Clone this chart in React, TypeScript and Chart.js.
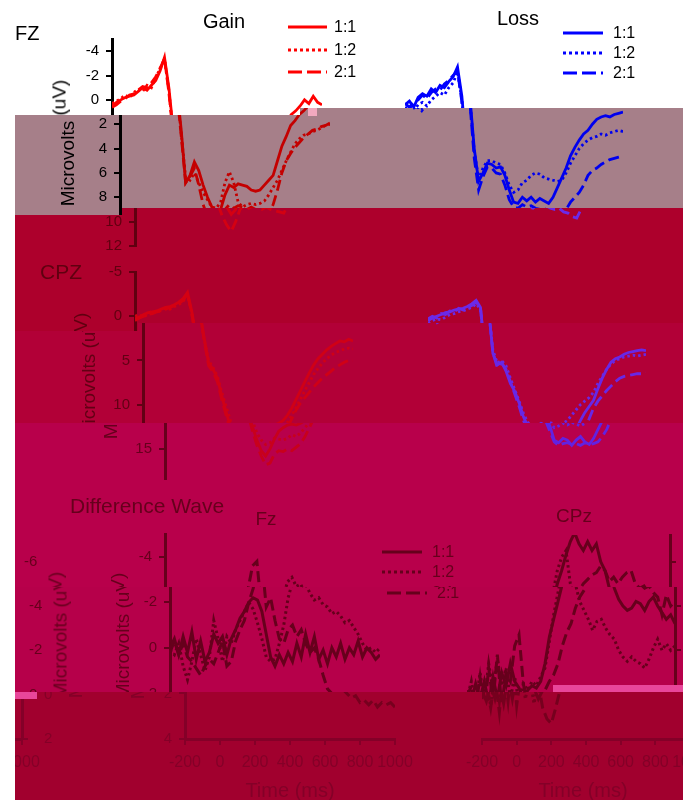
import React, { useEffect, useRef } from "react";
import { Chart, registerables } from "chart.js";

Chart.register(...registerables);

const FONT = "'Liberation Sans', Arial, Helvetica, sans-serif";

// ---------------- data ----------------
const TIMES = [-200, -175, -150, -125, -100, -75, -50, -25, 0, 25, 50, 75, 100, 125, 150, 175, 200, 225, 250, 275, 300, 325, 350, 375, 400, 425, 450, 475, 500, 525, 550, 575, 600, 625, 650, 675, 700, 725, 750, 775, 800, 825, 850, 875, 900, 925, 950, 975, 1000];
const X_TICKS = [-200, 0, 200, 400, 600, 800, 1000];
const FZ_TICKS = [-4, -2, 0, 2, 4, 6, 8, 10, 12];
const CPZ_TICKS = [-5, 0, 5, 10, 15];
const DIFF_FZ_TICKS = [-4, -2, 0, 2, 4];
const DIFF_CPZ_TICKS = [-6, -4, -2, 0, 2];
const LEGEND_LABELS = ["1:1", "1:2", "2:1"];

const FZ_GAIN_11 = [0.5, 0.2, 0.0, -0.2, -0.3, -0.4, -0.7, -1.0, -0.8, -1.2, -1.6, -2.4, -3.5, -1.0, 2.5, 6.8, 6.2, 5.1, 5.8, 7.0, 8.0, 8.8, 9.4, 9.0, 7.8, 7.0, 7.2, 6.9, 7.0, 7.1, 7.4, 7.5, 7.4, 7.0, 6.6, 6.2, 5.0, 3.8, 3.0, 2.1, 1.7, 1.2, 0.9, 0.5, 0.0, 0.3, -0.3, 0.2, 0.4];
const FZ_GAIN_12 = [0.3, 0.1, -0.1, -0.4, -0.2, -0.6, -0.9, -0.7, -1.2, -1.0, -1.8, -2.6, -3.3, -0.8, 2.8, 6.4, 6.6, 6.0, 6.8, 7.6, 8.2, 8.8, 8.9, 8.4, 6.8, 5.9, 6.8, 8.4, 8.8, 8.6, 8.5, 8.6, 8.5, 8.3, 7.8, 7.2, 6.6, 5.8, 5.0, 4.3, 3.6, 3.2, 2.9, 2.8, 2.6, 2.5, 2.3, 2.1, 2.0];
const FZ_GAIN_21 = [0.6, 0.4, 0.1, -0.1, -0.4, -0.5, -0.8, -1.1, -1.0, -1.4, -1.9, -2.6, -3.4, -0.6, 3.0, 6.8, 6.3, 5.6, 7.0, 8.6, 9.6, 10.3, 10.8, 10.0, 9.0, 8.6, 8.9, 8.7, 8.8, 9.0, 8.8, 9.0, 9.1, 9.2, 9.3, 8.6, 7.4, 6.0, 5.0, 4.4, 3.9, 3.5, 3.1, 2.8, 2.5, 2.4, 2.2, 2.1, 1.9];

const FZ_LOSS_11 = [0.4, 0.1, 0.6, -0.2, -0.5, -0.3, -0.9, -0.6, -1.2, -1.0, -1.5, -1.9, -2.7, -0.3, 4.0, 6.7, 6.0, 5.2, 5.3, 5.6, 5.5, 6.2, 7.4, 8.4, 8.5, 8.0, 8.3, 8.0, 8.4, 8.1, 8.3, 8.5, 8.0, 7.2, 6.4, 5.6, 4.6, 3.9, 3.3, 2.8, 2.5, 2.0, 1.6, 1.4, 1.3, 1.4, 1.2, 1.1, 1.0];
const FZ_LOSS_12 = [0.7, 0.5, 0.9, 0.4, 0.2, 0.5, 0.0, -0.3, -0.6, -0.4, -1.0, -1.4, -2.3, 0.0, 4.2, 6.5, 5.6, 5.0, 5.0, 5.2, 5.3, 6.0, 7.0, 7.6, 7.4, 6.8, 6.6, 6.2, 6.0, 6.1, 6.4, 6.5, 6.6, 6.7, 6.6, 6.0, 5.2, 4.6, 4.0, 3.6, 3.3, 3.1, 3.0, 2.8, 2.9, 2.7, 2.6, 2.5, 2.6];
const FZ_LOSS_21 = [0.3, 0.6, 0.2, 0.0, -0.4, -0.1, -0.6, -0.9, -0.8, -1.3, -1.6, -2.0, -2.4, 0.2, 4.8, 7.4, 6.3, 5.5, 5.6, 6.0, 6.1, 7.0, 8.2, 8.8, 8.9, 8.6, 8.8, 8.7, 8.9, 9.0, 8.9, 9.2, 9.3, 9.6, 9.7, 9.0, 8.4, 8.0, 7.6, 7.0, 6.2, 5.8, 5.6, 5.3, 5.1, 4.9, 4.8, 4.7, 4.6];

const CPZ_GAIN_11 = [0.3, 0.1, -0.2, -0.4, -0.5, -0.6, -0.8, -1.0, -1.1, -1.3, -1.6, -2.0, -2.7, -0.5, 2.5, 5.3, 6.0, 7.0, 9.0, 10.8, 12.5, 14.0, 15.2, 15.8, 15.0, 13.9, 13.0, 12.6, 12.3, 12.2, 12.3, 12.1, 11.8, 11.2, 10.4, 9.4, 8.4, 7.4, 6.4, 5.5, 4.8, 4.3, 3.8, 3.4, 3.1, 2.8, 2.9, 2.6, 2.8];
const CPZ_GAIN_12 = [0.0, -0.2, 0.1, -0.3, -0.6, -0.4, -0.7, -0.9, -0.8, -1.1, -1.3, -1.7, -2.4, -0.3, 2.7, 5.0, 5.8, 6.8, 8.6, 10.2, 11.8, 13.2, 14.0, 14.5, 14.3, 13.8, 13.9, 14.0, 13.8, 13.4, 13.6, 13.2, 12.6, 12.0, 11.2, 10.3, 9.4, 8.4, 7.5, 6.6, 5.9, 5.3, 4.8, 4.4, 4.1, 3.9, 3.7, 3.6, 3.7];
const CPZ_GAIN_21 = [0.5, 0.2, 0.0, -0.2, -0.3, -0.5, -0.6, -0.8, -1.0, -1.2, -1.4, -1.8, -2.5, -0.2, 2.8, 5.6, 6.3, 7.4, 9.4, 11.2, 13.0, 14.6, 15.8, 16.8, 16.6, 15.6, 15.2, 15.3, 15.0, 15.2, 14.8, 14.4, 13.6, 12.6, 11.6, 10.6, 9.8, 9.2, 8.6, 8.0, 7.5, 7.0, 6.6, 6.2, 5.8, 5.5, 5.2, 5.0, 5.0];

const CPZ_LOSS_11 = [0.5, 0.2, 0.0, -0.2, -0.4, -0.5, -0.7, -0.8, -0.9, -1.1, -1.4, -1.8, -1.0, 4.2, 5.5, 5.2, 6.2, 7.6, 8.5, 9.8, 11.4, 12.4, 14.0, 14.3, 13.8, 14.0, 14.6, 14.0, 13.6, 14.2, 14.5, 13.8, 12.8, 11.8, 10.9, 10.2, 9.5, 8.2, 7.0, 6.0, 5.2, 4.8, 4.6, 4.3, 4.1, 4.0, 3.9, 3.8, 3.9];
const CPZ_LOSS_12 = [0.8, 0.5, 0.3, 0.4, 0.1, -0.2, -0.3, -0.5, -0.6, -0.8, -1.0, -1.4, -0.8, 3.8, 5.3, 5.0, 5.6, 7.0, 8.3, 9.6, 11.0, 12.0, 12.6, 12.4, 12.1, 12.3, 12.0, 12.2, 12.4, 12.1, 11.8, 11.2, 10.6, 10.0, 9.6, 9.2, 8.6, 7.6, 6.8, 6.0, 5.4, 5.0, 4.8, 4.6, 4.5, 4.4, 4.5, 4.4, 4.3];
const CPZ_LOSS_21 = [0.3, 0.0, 0.2, -0.3, -0.2, -0.6, -0.5, -0.9, -0.7, -1.0, -1.2, -1.6, -0.9, 4.1, 5.8, 5.3, 6.0, 7.4, 8.8, 10.2, 11.8, 13.0, 14.2, 14.6, 14.4, 14.3, 14.5, 14.4, 14.6, 14.3, 14.5, 14.4, 14.2, 13.6, 12.8, 11.6, 10.4, 9.6, 9.0, 8.4, 7.9, 7.4, 7.0, 6.8, 6.7, 6.6, 6.5, 6.5, 6.4];

const DIFF_FZ_11 = [0.0, -0.4, 0.3, -0.5, 0.2, -0.7, 0.5, -0.3, 0.6, 0.2, -0.6, -0.2, -0.5, 0.3, -0.4, -0.8, -1.3, -1.6, -2.0, -2.2, -2.1, -1.6, -0.6, 0.4, 0.8, 0.3, 0.7, 0.2, 0.6, -0.2, 0.4, -0.6, 0.2, -0.5, 0.5, 0.1, 0.7, 0.0, 0.4, -0.2, 0.5, 0.0, 0.3, -0.3, 0.4, 0.0, 0.2, 0.5, 0.3];
const DIFF_FZ_12 = [0.1, 0.3, -0.2, 0.8, 1.4, 0.6, -0.4, 0.3, 1.0, 0.4, -1.2, -0.4, 0.6, -0.5, -0.2, -0.8, -1.2, -1.6, -2.0, -1.7, -1.1, -0.4, 0.4, 0.6, 0.5, -0.2, -1.0, -2.2, -2.9, -3.1, -2.7, -2.8, -2.4, -2.1, -2.2, -1.9, -1.8, -1.5, -1.6, -1.4, -1.1, -1.2, -0.9, -0.6, -0.2, 0.1, 0.0, 0.2, 0.0];
const DIFF_FZ_21 = [0.2, -0.3, 0.3, -0.2, 0.4, 0.6, 0.9, 1.2, 0.8, 0.5, 0.7, 0.2, -0.3, 0.8, 0.6, -0.3, -0.8, -1.2, -2.0, -2.6, -3.6, -3.8, -1.8, -2.2, -1.2, -0.4, -0.2, -0.8, -1.0, -0.5, -0.8, -0.2, 0.2, 0.0, 0.5, 1.2, 1.8, 2.0, 2.2, 2.1, 2.4, 2.3, 2.5, 2.3, 2.6, 2.4, 2.5, 2.4, 2.6];

const DIFF_CPZ_11 = [-0.2, 0.3, -0.5, 0.2, -0.6, 0.4, -0.8, 0.2, -1.0, -0.4, -1.4, -0.6, -0.3, 0.2, -0.2, -0.4, -0.3, -0.6, -1.4, -2.6, -3.4, -4.2, -5.0, -5.6, -6.3, -6.9, -7.3, -6.8, -6.5, -6.9, -6.5, -6.8, -6.0, -5.6, -4.8, -4.3, -4.0, -3.8, -3.9, -4.2, -4.1, -3.8, -4.2, -4.4, -4.0, -3.7, -3.4, -3.6, -3.2];
const DIFF_CPZ_12 = [0.2, -0.6, 0.5, -1.0, 0.3, -1.4, -0.2, -1.6, -0.4, -1.2, 0.2, -0.8, 0.4, -0.5, -0.2, -0.6, -0.4, -0.8, -1.2, -2.4, -3.6, -4.6, -5.6, -6.2, -6.5, -5.0, -4.2, -3.8, -3.4, -2.9, -3.3, -3.4, -3.0, -2.7, -2.5, -2.0, -1.7, -1.5, -1.7, -1.5, -1.4, -1.2, -1.6, -2.1, -2.5, -2.0, -2.3, -2.0, -2.2];
const DIFF_CPZ_21 = [0.1, -0.4, 0.6, -0.8, 0.8, -1.2, 0.3, -1.8, 0.5, -1.0, -0.6, -2.2, -2.7, -0.5, 0.6, 1.1, 1.3, 0.6, -0.2, -0.6, -0.9, -1.4, -2.2, -2.8, -3.2, -3.9, -4.4, -4.7, -5.0, -5.2, -5.4, -5.5, -5.8, -5.6, -5.1, -5.3, -5.0, -5.3, -5.5, -5.6, -5.0, -4.8, -4.9, -4.6, -4.4, -3.6, -4.5, -4.0, -4.2];

// ---------------- styling / layout ----------------
type Theme = { bg: string; ink: string; red: string; blue: string; dark: string };
const THEMES: Record<string, Theme> = {
  W: { bg: "#ffffff", ink: "#000000", red: "#ff0000", blue: "#0000ff", dark: "#000000" },
  M: { bg: "#a67f89", ink: "#000000", red: "#c40000", blue: "#0000ee", dark: "#000000" },
  C1: { bg: "#ad002c", ink: "#600010", red: "#d40012", blue: "#6b2ae8", dark: "#600010" },
  C2: { bg: "#b20037", ink: "#620014", red: "#d00016", blue: "#6828e6", dark: "#620014" },
  C3a: { bg: "#b8004b", ink: "#66001c", red: "#c8001c", blue: "#6222e2", dark: "#66001c" },
  C3b: { bg: "#b6004a", ink: "#66001c", red: "#c8001c", blue: "#6222e2", dark: "#66001c" },
  D: { bg: "#a1002e", ink: "#840028", red: "#c0001c", blue: "#6020d0", dark: "#76001e" },
};

type Hue = "red" | "blue" | "dark";
type PanelSpec = {
  key: string; l: number; r: number; t: number; b: number;
  yMin: number; yMax: number; yTicks: number[] | null; yPos: "left" | "right";
  xAxis: boolean; hue: Hue; series: number[][]; wrap?: boolean;
};

const PANELS: PanelSpec[] = [
  { key: "fzGain", l: 112, r: 322, t: 39, b: 246, yMin: -5, yMax: 12, yTicks: FZ_TICKS, yPos: "left", xAxis: false, hue: "red", series: [FZ_GAIN_11, FZ_GAIN_12, FZ_GAIN_21] },
  { key: "fzLoss", l: 405, r: 615, t: 39, b: 246, yMin: -5, yMax: 12, yTicks: null, yPos: "left", xAxis: false, hue: "blue", series: [FZ_LOSS_11, FZ_LOSS_12, FZ_LOSS_21] },
  { key: "cpzGain", l: 112, r: 322, t: 272, b: 479, yMin: -5, yMax: 18.4, yTicks: CPZ_TICKS, yPos: "left", xAxis: false, hue: "red", series: [CPZ_GAIN_11, CPZ_GAIN_12, CPZ_GAIN_21] },
  { key: "cpzLoss", l: 405, r: 615, t: 272, b: 479, yMin: -5, yMax: 18.4, yTicks: null, yPos: "left", xAxis: false, hue: "blue", series: [CPZ_LOSS_11, CPZ_LOSS_12, CPZ_LOSS_21] },
  { key: "dFz", l: 112, r: 322, t: 534, b: 739, yMin: -5, yMax: 4, yTicks: DIFF_FZ_TICKS, yPos: "left", xAxis: true, hue: "dark", series: [DIFF_FZ_11, DIFF_FZ_12, DIFF_FZ_21] },
  { key: "dCpz", l: 405, r: 617, t: 530, b: 739, yMin: -7.2, yMax: 2, yTicks: DIFF_CPZ_TICKS, yPos: "right", xAxis: true, hue: "dark", series: [DIFF_CPZ_11, DIFF_CPZ_12, DIFF_CPZ_21], wrap: true },
];

const LINE_DASH: number[][] = [[], [2.5, 3], [11, 5]];
const SVG_DASH: (string | undefined)[] = [undefined, "3 3", "14 5"];

type TextSpec = { text: string; x: number; y: number; size: number; align: "left" | "center"; rot?: boolean; wrap?: boolean };
const TEXTS: TextSpec[] = [
  { text: "FZ", x: 15, y: 33, size: 20, align: "left" },
  { text: "Gain", x: 224, y: 21, size: 20, align: "center" },
  { text: "Loss", x: 518, y: 18, size: 20, align: "center" },
  { text: "CPZ", x: 17, y: 271, size: 21, align: "left" },
  { text: "Difference Wave", x: 17, y: 505, size: 21, align: "left" },
  { text: "Fz", x: 213, y: 518, size: 19, align: "center" },
  { text: "CPz", x: 521, y: 515, size: 19, align: "center" },
  { text: "Microvolts (uV)", x: 59, y: 143, size: 19, align: "center", rot: true },
  { text: "Microvolts (uV)", x: 57, y: 376, size: 19, align: "center", rot: true },
  { text: "Microvolts (uV)", x: 64, y: 636, size: 19, align: "center", rot: true },
  { text: "Microvolts (uV)", x: 670, y: 635, size: 19, align: "center", rot: true, wrap: true },
  { text: "Time (ms)", x: 217, y: 790, size: 20, align: "center" },
  { text: "Time (ms)", x: 510, y: 790, size: 20, align: "center" },
];

type LegendSpec = { x0: number; x1: number; tx: number; rows: number[]; hue: Hue };
const LEGENDS: LegendSpec[] = [
  { x0: 288, x1: 327, tx: 334, rows: [27, 50, 72], hue: "red" },
  { x0: 563, x1: 603, tx: 613, rows: [33, 53, 73], hue: "blue" },
  { x0: 329, x1: 369, tx: 379, rows: [552, 572, 593], hue: "dark" },
];

type BandSpec = { x0: number; x1: number; y0: number; y1: number; s: number; th: string; wrap?: boolean };
const PERIOD = 668;
const BANDS: BandSpec[] = [
  { x0: 0, x1: 683, y0: 0, y1: 116, s: 0, th: "W" },
  { x0: 15, x1: 683, y0: 208, y1: 323, s: 23, th: "C1" },
  { x0: 15, x1: 683, y0: 323, y1: 423, s: 31, th: "C2" },
  { x0: 15, x1: 138, y0: 323, y1: 331, s: 23, th: "C1" },
  { x0: 15, x1: 122, y0: 115, y1: 215, s: 8, th: "M" },
  { x0: 122, x1: 300, y0: 115, y1: 208, s: 8, th: "M" },
  { x0: 300, x1: 683, y0: 108, y1: 208, s: 8, th: "M" },
  { x0: 15, x1: 683, y0: 423, y1: 587, s: 53, th: "C3a", wrap: true },
  { x0: 15, x1: 683, y0: 587, y1: 692, s: 58, th: "C3b", wrap: true },
  { x0: 15, x1: 683, y0: 692, y1: 800, s: 73, th: "D", wrap: true },
];

const GLITCH_BLOCKS = [
  { x: 553, y: 685, w: 130, h: 7, c: "#e8469a" },
  { x: 15, y: 692, w: 22, h: 7, c: "#e8469a" },
  { x: 308, y: 108, w: 9, h: 8, c: "#f2a9bf" },
];

// ---------------- helpers ----------------
function geom(p: PanelSpec) {
  const hasL = !!p.yTicks && p.yPos === "left";
  const hasR = !!p.yTicks && p.yPos === "right";
  const L = p.l - (hasL ? 80 : 20);
  const R = p.r + (hasR ? 60 : 30);
  const T = p.t - 20;
  const B = p.b + (p.xAxis ? 50 : 20);
  return {
    L, T, W: R - L, H: B - T, hasL, hasR,
    pad: {
      left: p.l - L - (hasL ? 60 : 0),
      right: R - p.r - (hasR ? 45 : 0),
      top: p.t - T,
      bottom: B - p.b - (p.xAxis ? 40 : 0),
    },
  };
}

function PanelChart({ spec, theme }: { spec: PanelSpec; theme: Theme }) {
  const ref = useRef<HTMLCanvasElement>(null);
  const g = geom(spec);
  useEffect(() => {
    const color = theme[spec.hue];
    const axisGrid = {
      display: true, drawOnChartArea: false, drawTicks: true, tickLength: 6,
      tickWidth: 2, tickColor: theme.ink, color: theme.ink, lineWidth: 2,
    };
    const hasY = !!spec.yTicks;
    const chart = new Chart(ref.current as HTMLCanvasElement, {
      type: "line",
      data: {
        datasets: spec.series.map((vals, i) => ({
          label: LEGEND_LABELS[i],
          data: TIMES.map((t, j) => ({ x: t, y: vals[j] })),
          borderColor: color,
          borderWidth: spec.hue === "dark" ? 3 : 2.8,
          borderDash: LINE_DASH[i],
          pointRadius: 0,
          tension: 0,
          fill: false,
        })),
      },
      options: {
        animation: false,
        responsive: false,
        devicePixelRatio: 1,
        events: [],
        layout: { padding: g.pad },
        plugins: { legend: { display: false }, tooltip: { enabled: false }, title: { display: false } },
        scales: {
          x: {
            type: "linear", min: -200, max: 1000, display: spec.xAxis, position: "bottom",
            afterBuildTicks: (s: any) => { s.ticks = X_TICKS.map((v) => ({ value: v })); },
            afterFit: (s: any) => { s.height = spec.xAxis ? 40 : 0; },
            ticks: { color: theme.ink, font: { family: FONT, size: 16 }, padding: 8, autoSkip: false, maxRotation: 0, minRotation: 0, callback: (v: any) => String(v) },
            grid: axisGrid,
            border: { display: true, color: theme.ink, width: 3 },
          },
          y: {
            type: "linear", min: spec.yMin, max: spec.yMax, reverse: true, position: spec.yPos,
            display: hasY,
            afterBuildTicks: (s: any) => { s.ticks = (spec.yTicks || []).map((v) => ({ value: v })); },
            afterFit: (s: any) => { s.width = hasY ? (spec.yPos === "left" ? 60 : 45) : 0; },
            ticks: { color: theme.ink, font: { family: FONT, size: 15 }, padding: spec.yPos === "left" ? 7 : 16, autoSkip: false, callback: (v: any) => String(v) },
            grid: axisGrid,
            border: { display: true, color: theme.ink, width: 3 },
          },
        },
      } as any,
    });
    return () => chart.destroy();
  }, []);
  return (
    <canvas
      ref={ref}
      width={g.W}
      height={g.H}
      style={{ position: "absolute", left: g.L, top: g.T, width: g.W, height: g.H }}
    />
  );
}

function Label({ t, color }: { t: TextSpec; color: string }) {
  const transform = t.rot
    ? "translate(-50%,-50%) rotate(-90deg)"
    : t.align === "center" ? "translate(-50%,-50%)" : "translate(0,-50%)";
  return (
    <div style={{ position: "absolute", left: t.x, top: t.y, transform, fontFamily: FONT, fontSize: t.size, lineHeight: 1, color, whiteSpace: "nowrap" }}>
      {t.text}
    </div>
  );
}

function Legend({ lg, theme }: { lg: LegendSpec; theme: Theme }) {
  const w = lg.x1 - lg.x0;
  return (
    <>
      {LEGEND_LABELS.map((lab, i) => (
        <React.Fragment key={i}>
          <svg width={w} height={6} style={{ position: "absolute", left: lg.x0, top: lg.rows[i] - 3, overflow: "visible" }}>
            <line x1={0} y1={3} x2={w} y2={3} stroke={theme[lg.hue]} strokeWidth={3} strokeDasharray={SVG_DASH[i]} />
          </svg>
          <div style={{ position: "absolute", left: lg.tx, top: lg.rows[i], transform: "translate(0,-50%)", fontFamily: FONT, fontSize: 16, lineHeight: 1, color: theme.ink, whiteSpace: "nowrap" }}>
            {lab}
          </div>
        </React.Fragment>
      ))}
    </>
  );
}

function Band({ band }: { band: BandSpec }) {
  const th = THEMES[band.th];
  const copies = [{ off: band.s, wrapOnly: false }];
  if (band.wrap) copies.push({ off: band.s - PERIOD, wrapOnly: true });
  return (
    <div style={{ position: "absolute", left: band.x0, top: band.y0, width: band.x1 - band.x0, height: band.y1 - band.y0, overflow: "hidden", background: th.bg }}>
      {copies.map((c, k) => {
        const panels = PANELS.filter((p) => {
          if (c.wrapOnly && !p.wrap) return false;
          const g = geom(p);
          return g.T < band.y1 && g.T + g.H > band.y0 && g.L + c.off < band.x1 && g.L + g.W + c.off > band.x0;
        });
        return (
          <div key={k} style={{ position: "absolute", left: c.off - band.x0, top: -band.y0, width: 0, height: 0 }}>
            {panels.map((p) => <PanelChart key={p.key} spec={p} theme={th} />)}
            {TEXTS.filter((t) => !c.wrapOnly || t.wrap).map((t, i) => <Label key={i} t={t} color={th.ink} />)}
            {!c.wrapOnly && LEGENDS.map((lg, i) => <Legend key={i} lg={lg} theme={th} />)}
          </div>
        );
      })}
    </div>
  );
}

export default function App() {
  return (
    <div style={{ position: "absolute", left: 0, top: 0, width: 683, height: 800, background: "#ffffff", overflow: "hidden" }}>
      {BANDS.map((b, i) => <Band key={i} band={b} />)}
      {GLITCH_BLOCKS.map((g, i) => (
        <div key={"g" + i} style={{ position: "absolute", left: g.x, top: g.y, width: g.w, height: g.h, background: g.c }} />
      ))}
    </div>
  );
}
